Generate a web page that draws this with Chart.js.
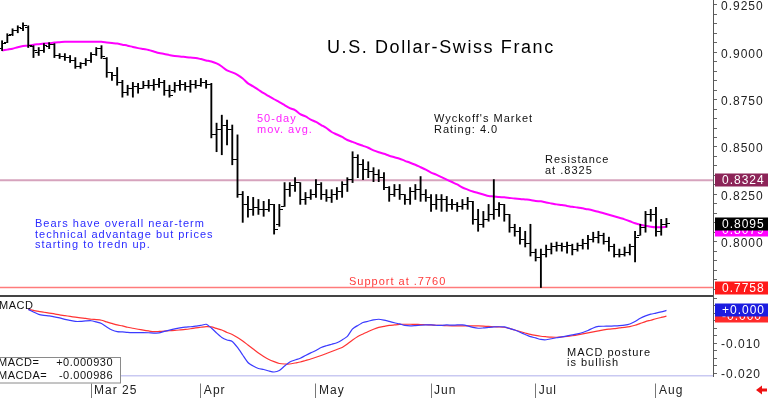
<!DOCTYPE html>
<html lang="en">
<head>
  <meta charset="UTF-8" />
  <title>U.S. Dollar-Swiss Franc</title>
  <script src="https://cdn.jsdelivr.net/npm/chart.js"></script>
  <style>
    html, body { margin: 0; padding: 0; background: #fff; }
    #wrap { position: relative; width: 768px; height: 398px; overflow: hidden; background: #fff; }
    #priceChart { position: absolute; left: 0; top: 0; }
    #macdChart { position: absolute; left: 0; top: 297px; }
  </style>
</head>
<body>
  <div id="wrap">
    <canvas id="priceChart" width="768" height="297"></canvas>
    <canvas id="macdChart" width="768" height="101"></canvas>
  </div>
  <script>
    // daily bars, Feb -> early Aug 2025 (one entry per trading day)
    const highs = [
      .9061, .9098, .9124, .9140, .9156, .9140, .9035, .9025, .9046, .9051,
      .9046, .8993, .8993, .8983, .8972, .8946, .8967, .8999, .9025, .9035,
      .8972, .8894, .8920, .8852, .8826, .8841, .8836, .8847, .8852, .8857,
      .8862, .8852, .8826, .8841, .8852, .8841, .8852, .8852, .8862, .8852,
      .8836, .8626, .8668, .8642, .8616, .8564, .8265, .8239, .8234, .8223,
      .8213, .8223, .8197, .8197, .8312, .8312, .8338, .8312, .8260, .8275,
      .8328, .8312, .8275, .8275, .8286, .8317, .8338, .8475, .8459, .8433,
      .8422, .8391, .8380, .8365, .8291, .8302, .8302, .8249, .8286, .8302,
      .8344, .8275, .8249, .8249, .8249, .8239, .8223, .8207, .8223, .8234,
      .8213, .8171, .8160, .8197, .8328, .8207, .8197, .8144, .8092, .8076,
      .8055, .8092, .7961, .7961, .7982, .7993, .7998, .7993, .7998, .7987,
      .7993, .8013, .8034, .8050, .8055, .8045, .8024, .7987, .7961, .7972,
      .7987, .8055, .8092, .8160, .8171, .8181, .8118, .8123
    ];
    const lows = [
      .9009, .9051, .9088, .9103, .9114, .9025, .8972, .8983, .8999, .9019,
      .8972, .8967, .8957, .8946, .8915, .8915, .8930, .8946, .8983, .8967,
      .8868, .8852, .8826, .8763, .8773, .8763, .8784, .8810, .8810, .8799,
      .8815, .8773, .8763, .8789, .8799, .8799, .8789, .8810, .8820, .8810,
      .8548, .8475, .8459, .8511, .8406, .8234, .8102, .8129, .8139, .8144,
      .8134, .8160, .8040, .8081, .8186, .8239, .8265, .8197, .8197, .8223,
      .8234, .8223, .8213, .8207, .8223, .8234, .8265, .8312, .8338, .8328,
      .8338, .8317, .8317, .8275, .8213, .8239, .8223, .8197, .8197, .8223,
      .8213, .8213, .8160, .8171, .8160, .8160, .8171, .8160, .8171, .8171,
      .8092, .8055, .8076, .8108, .8118, .8134, .8108, .8050, .8029, .7987,
      .7972, .7924, .7898, .7758, .7919, .7935, .7950, .7950, .7940, .7930,
      .7950, .7961, .7961, .7998, .7993, .7987, .7950, .7919, .7919, .7924,
      .7930, .7893, .8034, .8050, .8108, .8029, .8034, .8076
    ];
    const opens = [
      .9019, .9051, .9093, .9114, .9124, .9130, .9030, .8999, .9009, .9030,
      .9040, .8983, .8978, .8972, .8957, .8925, .8941, .8957, .8988, .9019,
      .8967, .8894, .8878, .8841, .8789, .8810, .8820, .8810, .8826, .8826,
      .8831, .8841, .8799, .8799, .8826, .8831, .8820, .8831, .8826, .8841,
      .8831, .8564, .8590, .8616, .8590, .8433, .8249, .8197, .8171, .8181,
      .8171, .8171, .8197, .8092, .8186, .8275, .8296, .8312, .8223, .8234,
      .8249, .8302, .8249, .8234, .8249, .8265, .8302, .8328, .8443, .8406,
      .8380, .8370, .8354, .8338, .8286, .8249, .8275, .8249, .8223, .8265,
      .8275, .8249, .8234, .8197, .8223, .8223, .8197, .8197, .8186, .8197,
      .8213, .8118, .8092, .8118, .8144, .8171, .8197, .8144, .8076, .8055,
      .8013, .7993, .7945, .7919, .7935, .7961, .7972, .7982, .7972, .7982,
      .7961, .7982, .7993, .8013, .8024, .8034, .8003, .7972, .7935, .7935,
      .7945, .7972, .8034, .8076, .8144, .8144, .8055, .8092
    ];
    const closes = [
      .9046, .9088, .9114, .9130, .9140, .9035, .9009, .9009, .9035, .9040,
      .8983, .8978, .8972, .8957, .8925, .8941, .8957, .8988, .9019, .8978,
      .8894, .8878, .8841, .8789, .8810, .8820, .8810, .8826, .8826, .8831,
      .8841, .8799, .8773, .8826, .8831, .8820, .8831, .8826, .8841, .8831,
      .8564, .8590, .8616, .8590, .8433, .8249, .8197, .8171, .8181, .8171,
      .8171, .8197, .8066, .8171, .8275, .8296, .8312, .8223, .8234, .8249,
      .8302, .8249, .8234, .8249, .8265, .8302, .8328, .8443, .8406, .8380,
      .8370, .8354, .8338, .8286, .8249, .8275, .8249, .8223, .8265, .8275,
      .8249, .8234, .8197, .8223, .8223, .8197, .8197, .8186, .8197, .8213,
      .8118, .8092, .8118, .8144, .8171, .8197, .8144, .8076, .8055, .8013,
      .7993, .7945, .7919, .7935, .7961, .7972, .7982, .7972, .7982, .7961,
      .7982, .7993, .8013, .8024, .8034, .8003, .7972, .7935, .7935, .7945,
      .7972, .8024, .8076, .8144, .8144, .8055, .8092, .8095
    ];
    const ma50 = [
      .9009, .9014, .9019, .9027, .9033, .9035, .9040, .9043, .9046, .9048,
      .9051, .9053, .9055, .9056, .9056, .9056, .9056, .9056, .9056, .9055,
      .9052, .9049, .9046, .9040, .9035, .9028, .9022, .9017, .9012, .9004,
      .8996, .8991, .8985, .8980, .8978, .8975, .8972, .8970, .8964, .8957,
      .8951, .8941, .8925, .8904, .8894, .8881, .8862, .8836, .8820, .8802,
      .8784, .8768, .8752, .8737, .8721, .8705, .8695, .8674, .8661, .8645,
      .8632, .8616, .8600, .8579, .8566, .8553, .8537, .8527, .8516, .8506,
      .8496, .8482, .8472, .8464, .8454, .8446, .8438, .8427, .8417, .8406,
      .8393, .8380, .8365, .8354, .8341, .8328, .8315, .8302, .8286, .8275,
      .8265, .8257, .8249, .8241, .8239, .8236, .8234, .8231, .8228, .8226,
      .8223, .8220, .8215, .8213, .8207, .8202, .8197, .8194, .8189, .8184,
      .8181, .8176, .8171, .8165, .8158, .8150, .8142, .8134, .8126, .8118,
      .8108, .8097, .8089, .8084, .8079, .8076, .8076, .8079
    ];
    const macd = [
      null, null, null, null, null,
      .00127, .00043, -.0004, -.00073, -.0009,
      -.00123, -.00157, -.00207, -.0024, -.00273, -.00273, -.00257, -.0025, -.0029, -.0034,
      -.00457, -.00557, -.00613, -.00623, -.0064, -.00647, -.00647, -.00647, -.0065, -.0066,
      -.00657, -.00607, -.00563, -.00523, -.0049, -.00463, -.0045, -.0043, -.00407, -.00367,
      -.0049, -.00657, -.00807, -.0089, -.0094, -.0114, -.0139, -.0164, -.01757, -.0184,
      -.01873, -.01923, -.01957, -.01907, -.01757, -.01623, -.01557, -.015, -.01407, -.0132,
      -.0124, -.0114, -.01083, -.01033, -.00983, -.0089, -.00773, -.00523, -.00407, -.00307,
      -.00267, -.00223, -.002, -.0023, -.00273, -.00317, -.00357, -.00407, -.00423, -.00413,
      -.004, -.0039, -.0039, -.004, -.00407, -.0039, -.00397, -.0039, -.0039, -.00423,
      -.00473, -.005, -.0049, -.00473, -.00457, -.0045, -.00457, -.00507, -.00557, -.00633,
      -.00707, -.0078, -.00823, -.00873, -.00883, -.0085, -.00817, -.0079, -.00757, -.00723,
      -.0069, -.0064, -.00573, -.0049, -.0044, -.00433, -.0043, -.00423, -.00413, -.00397,
      -.00357, -.00273, -.00167, -.0009, -.0003, .00003, .00043, .00093
    ];
    const macdSignal = [
      null, null, null, null, null,
      .00127, .00093, .0006, .00033, .00003,
      -.00023, -.00057, -.0008, -.00107, -.00133, -.00157, -.00173, -.002, -.00213, -.00233,
      -.0029, -.0034, -.0039, -.00423, -.00467, -.005, -.00533, -.00563, -.0059, -.00613,
      -.00607, -.00597, -.00583, -.00573, -.00557, -.0054, -.00517, -.0049, -.00467, -.00447,
      -.00457, -.00507, -.00557, -.0064, -.00707, -.00807, -.00923, -.01057, -.0119, -.01323,
      -.0144, -.0154, -.01613, -.01673, -.0169, -.0169, -.01657, -.01623, -.01573, -.01523,
      -.01467, -.01407, -.0134, -.01273, -.01207, -.0114, -.01023, -.0089, -.00773, -.0069,
      -.00607, -.00533, -.00473, -.0044, -.00407, -.0039, -.00373, -.00367, -.00367, -.0037,
      -.00377, -.00383, -.0039, -.004, -.00407, -.00417, -.00423, -.00423, -.00423, -.00423,
      -.00423, -.00423, -.0043, -.0044, -.0045, -.00457, -.00467, -.00507, -.00557, -.00607,
      -.00657, -.00707, -.0074, -.00767, -.00783, -.00797, -.008, -.0079, -.00773, -.0075,
      -.00723, -.0069, -.00657, -.00623, -.0059, -.00557, -.0053, -.00513, -.0049, -.00473,
      -.00447, -.004, -.0034, -.0028, -.00233, -.00183, -.0014, -.000986
    ];

    const monthTicks = [17, 38, 60, 82, 102, 125];
    const monthLabels = ['Mar 25', 'Apr', 'May', 'Jun', 'Jul', 'Aug'];
    const priceLabelTicks = [0.775, 0.8, 0.825, 0.85, 0.875, 0.9, 0.925];
    const macdLabelTicks = [-0.02, -0.01, 0];
    const resistance = 0.8324;
    const support = 0.7758;

    const xMin = -0.4, xMax = 135.9;
    const FONT = '"Liberation Sans", Arial, sans-serif';
    Chart.defaults.font.family = FONT;

    const pts = arr => arr.map((v, i) => ({ x: i, y: v }));
    const last = arr => arr[arr.length - 1];

    function tickMark(side) {
      const c = document.createElement('canvas');
      c.width = 7; c.height = 1;
      const g = c.getContext('2d');
      g.fillStyle = '#000';
      g.fillRect(side === 'left' ? 0 : 4, 0, 3, 1);
      return c;
    }

    function label(ctx, str, x, y, size, color, spacing, align) {
      ctx.save();
      ctx.font = size + 'px ' + FONT;
      ctx.letterSpacing = (spacing || 0) + 'px';
      ctx.fillStyle = color;
      ctx.textAlign = align || 'left';
      ctx.textBaseline = 'middle';
      ctx.fillText(str, x, y);
      ctx.restore();
    }

    function valueBox(chart, y, str, bg) {
      const ctx = chart.ctx;
      const x = chart.chartArea.right + 2;
      ctx.save();
      ctx.fillStyle = bg;
      ctx.fillRect(x, Math.round(y) - 6.5, chart.width - x, 13);
      ctx.restore();
      label(ctx, str, x + 7, Math.round(y) + 1, 12, '#fff', 1);
    }

    const spacingPlugin = {
      id: 'spacing',
      beforeDraw(chart) { chart.ctx.letterSpacing = '1px'; }
    };

    const priceNotes = {
      id: 'priceNotes',
      afterDraw(chart) {
        const ctx = chart.ctx, y = chart.scales.y, a = chart.chartArea;
        label(ctx, 'U.S. Dollar-Swiss Franc', 327, 48, 18, '#000', 1.6);
        label(ctx, '50-day', 257, 119, 11, '#ff22ff', 1);
        label(ctx, 'mov. avg.', 257, 130, 11, '#ff22ff', 1);
        label(ctx, "Wyckoff's Market", 434, 119, 11, '#111', 1);
        label(ctx, 'Rating: 4.0', 434, 130, 11, '#111', 1);
        label(ctx, 'Resistance', 545, 160, 11, '#111', 1);
        label(ctx, 'at .8325', 545, 171, 11, '#111', 1);
        label(ctx, 'Bears have overall near-term', 35, 224, 11, '#2b2bff', 1);
        label(ctx, 'technical advantage but prices', 35, 234.5, 11, '#2b2bff', 1);
        label(ctx, 'starting to tredn up.', 35, 245, 11, '#2b2bff', 1);
        label(ctx, 'Support at .7760', 349, 282, 11, '#ff3b3b', 1);

        ctx.save();
        ctx.fillStyle = '#444';
        ctx.fillRect(a.left, a.bottom - 2, a.right - a.left, 2);
        ctx.restore();

        const closeY = y.getPixelForValue(last(closes));
        const maY = Math.max(y.getPixelForValue(last(ma50)), closeY + 6.5);
        valueBox(chart, y.getPixelForValue(resistance), resistance.toFixed(4), '#8c2458');
        valueBox(chart, maY, last(ma50).toFixed(4), '#ff00ff');
        valueBox(chart, closeY, last(closes).toFixed(4), '#000');
        valueBox(chart, y.getPixelForValue(support), support.toFixed(4), '#ff1a1a');
      }
    };

    const macdNotes = {
      id: 'macdNotes',
      afterDraw(chart) {
        const ctx = chart.ctx, y = chart.scales.y;
        label(ctx, 'MACD', -1, 9, 11, '#111', 0.5);
        label(ctx, 'MACD posture', 567, 55.5, 11, '#111', 1);
        label(ctx, 'is bullish', 567, 65.5, 11, '#111', 1);

        // readout box
        ctx.save();
        ctx.fillStyle = '#fff';
        ctx.fillRect(-1, 60.5, 121.5, 25.5);
        ctx.strokeStyle = '#8a8a8a';
        ctx.lineWidth = 1;
        ctx.strokeRect(-1, 60.5, 121.5, 25.5);
        ctx.restore();
        const m = last(macd), s = last(macdSignal);
        const fmt6 = v => (v >= 0 ? '+' : '-') + Math.abs(v).toFixed(6);
        label(ctx, 'MACD=', -2, 66, 11, '#111', 0.5);
        label(ctx, fmt6(m), 113, 66, 11, '#111', 0.5, 'right');
        label(ctx, 'MACDA=', -2, 78.5, 11, '#111', 0.5);
        label(ctx, fmt6(s), 113, 78.5, 11, '#111', 0.5, 'right');

        const fmt3 = v => (v >= 0 ? '+' : '-') + (Math.floor(Math.abs(v) * 1000) / 1000).toFixed(3);
        valueBox(chart, y.getPixelForValue(s), fmt3(s), '#ff2a2a');
        valueBox(chart, y.getPixelForValue(m), fmt3(m), '#1c1ce0');

        // small red arrow, bottom right
        ctx.save();
        ctx.fillStyle = '#ee1111';
        ctx.beginPath();
        ctx.moveTo(756, 93);
        ctx.lineTo(762, 88.5);
        ctx.lineTo(762, 97.5);
        ctx.closePath();
        ctx.fill();
        ctx.fillRect(761, 91.5, 6, 3);
        ctx.restore();
      }
    };

    function minorTicks(from, to, step) {
      const out = [];
      for (let v = from; v <= to + step / 2; v += step) out.push({ value: +v.toFixed(5) });
      return out;
    }

    new Chart(document.getElementById('priceChart'), {
      data: {
        datasets: [
          {
            type: 'bar',
            data: closes.map((c, i) => ({ x: i, y: [lows[i], highs[i]] })),
            backgroundColor: '#000',
            barThickness: 1.2,
            order: 0
          },
          {
            type: 'line',
            data: pts(opens),
            showLine: false,
            pointStyle: tickMark('left'),
            pointRadius: 2,
            order: 0
          },
          {
            type: 'line',
            data: pts(closes),
            showLine: false,
            pointStyle: tickMark('right'),
            pointRadius: 2,
            order: 0
          },
          {
            type: 'line',
            data: pts(ma50),
            borderColor: '#ff00ff',
            borderWidth: 2,
            pointRadius: 0,
            tension: 0.3,
            order: 1
          },
          {
            type: 'line',
            data: [{ x: xMin, y: resistance }, { x: xMax, y: resistance }],
            borderColor: '#d6a3bd',
            borderWidth: 2,
            pointRadius: 0,
            order: 2
          },
          {
            type: 'line',
            data: [{ x: xMin, y: support }, { x: xMax, y: support }],
            borderColor: '#ff7b7b',
            borderWidth: 1.5,
            pointRadius: 0,
            order: 2
          }
        ]
      },
      options: {
        responsive: false,
        animation: false,
        layout: { padding: 0, autoPadding: false },
        plugins: { legend: { display: false }, tooltip: { enabled: false } },
        scales: {
          x: { type: 'linear', min: xMin, max: xMax, offset: false, display: false },
          y: {
            position: 'right',
            min: 0.7708,
            max: 0.9276,
            afterBuildTicks: ax => { ax.ticks = minorTicks(0.775, 0.925, 0.005); },
            afterFit: ax => { ax.width = 55; ax.paddingTop = 0; ax.paddingBottom = 0; },
            grid: { drawOnChartArea: false, tickLength: 4, color: '#666' },
            border: { color: '#555', width: 1 },
            ticks: {
              color: '#222',
              padding: 4,
              labelOffset: 2,
              font: { size: 12 },
              autoSkip: false,
              callback: v => priceLabelTicks.some(t => Math.abs(t - v) < 1e-6) ? v.toFixed(4) : ''
            }
          }
        }
      },
      plugins: [spacingPlugin, priceNotes]
    });

    new Chart(document.getElementById('macdChart'), {
      data: {
        datasets: [
          {
            type: 'line',
            data: pts(macd),
            borderColor: '#3b3bff',
            borderWidth: 1.2,
            pointRadius: 0,
            tension: 0.2
          },
          {
            type: 'line',
            data: pts(macdSignal),
            borderColor: '#ff3333',
            borderWidth: 1.2,
            pointRadius: 0,
            tension: 0.2
          }
        ]
      },
      options: {
        responsive: false,
        animation: false,
        layout: { padding: 0, autoPadding: false },
        plugins: { legend: { display: false }, tooltip: { enabled: false } },
        scales: {
          x: {
            type: 'linear',
            min: xMin,
            max: xMax,
            offset: false,
            afterBuildTicks: ax => { ax.ticks = monthTicks.map(v => ({ value: v })); },
            afterFit: ax => { ax.height = 22; ax.paddingLeft = 0; ax.paddingRight = 0; },
            grid: { drawOnChartArea: false, tickLength: 22, color: '#777', tickBorderDash: [16, 7], tickBorderDashOffset: 16 },
            border: { color: '#c9c9f2', width: 1.5 },
            ticks: {
              align: 'start',
              labelOffset: 3,
              padding: -15,
              maxRotation: 0,
              autoSkip: false,
              color: '#222',
              font: { size: 12 },
              callback: (v, i) => monthLabels[i]
            }
          },
          y: {
            position: 'right',
            min: -0.0209,
            max: 0.0054,
            afterBuildTicks: ax => { ax.ticks = minorTicks(-0.02, 0.005, 0.0025); },
            afterFit: ax => { ax.width = 55; ax.paddingTop = 0; ax.paddingBottom = 0; },
            grid: { drawOnChartArea: false, tickLength: 4, color: '#666' },
            border: { color: '#555', width: 1 },
            ticks: {
              color: '#222',
              padding: 4,
              labelOffset: 1.5,
              font: { size: 12 },
              autoSkip: false,
              callback: v => macdLabelTicks.some(t => Math.abs(t - v) < 1e-7) ? (v === 0 ? '+0.000' : v.toFixed(3)) : ''
            }
          }
        }
      },
      plugins: [spacingPlugin, macdNotes]
    });
  </script>
</body>
</html>
